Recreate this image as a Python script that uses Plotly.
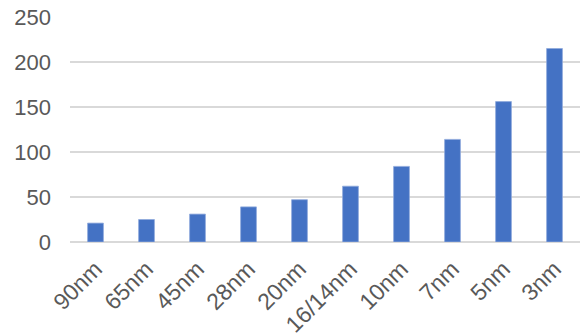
import plotly.graph_objects as go

categories = ["90nm", "65nm", "45nm", "28nm", "20nm", "16/14nm", "10nm", "7nm", "5nm", "3nm"]
values = [21, 25, 31, 39, 47, 62, 84, 114, 156, 215]
y_ticks = [0, 50, 100, 150, 200, 250]

fig = go.Figure(
    go.Bar(
        x=categories,
        y=values,
        marker=dict(color="#4472C4", line=dict(color="#8FAADC", width=0.8)),
    )
)

fig.update_layout(
    width=582,
    height=336,
    margin=dict(l=70, r=2, t=17, b=94),
    paper_bgcolor="white",
    plot_bgcolor="white",
    bargap=0.69,
    showlegend=False,
    font=dict(family="Liberation Sans, Arial, sans-serif", color="#595959", size=22),
)
fig.update_xaxes(
    type="category",
    range=[-0.5, 9.5],
    tickangle=-45,
    showgrid=False,
    showline=False,
    ticks="",
    automargin=False,
    ticklabelstandoff=8,
    tickfont=dict(size=23, color="#595959"),
)
fig.update_yaxes(
    range=[0, 250],
    tickvals=y_ticks,
    showgrid=True,
    gridcolor="#D9D9D9",
    gridwidth=2,
    zeroline=True,
    zerolinecolor="#D9D9D9",
    zerolinewidth=2,
    showline=False,
    ticks="",
    automargin=False,
    ticklabelstandoff=18,
    tickfont=dict(size=22, color="#595959"),
)

fig.write_html("out.html")
